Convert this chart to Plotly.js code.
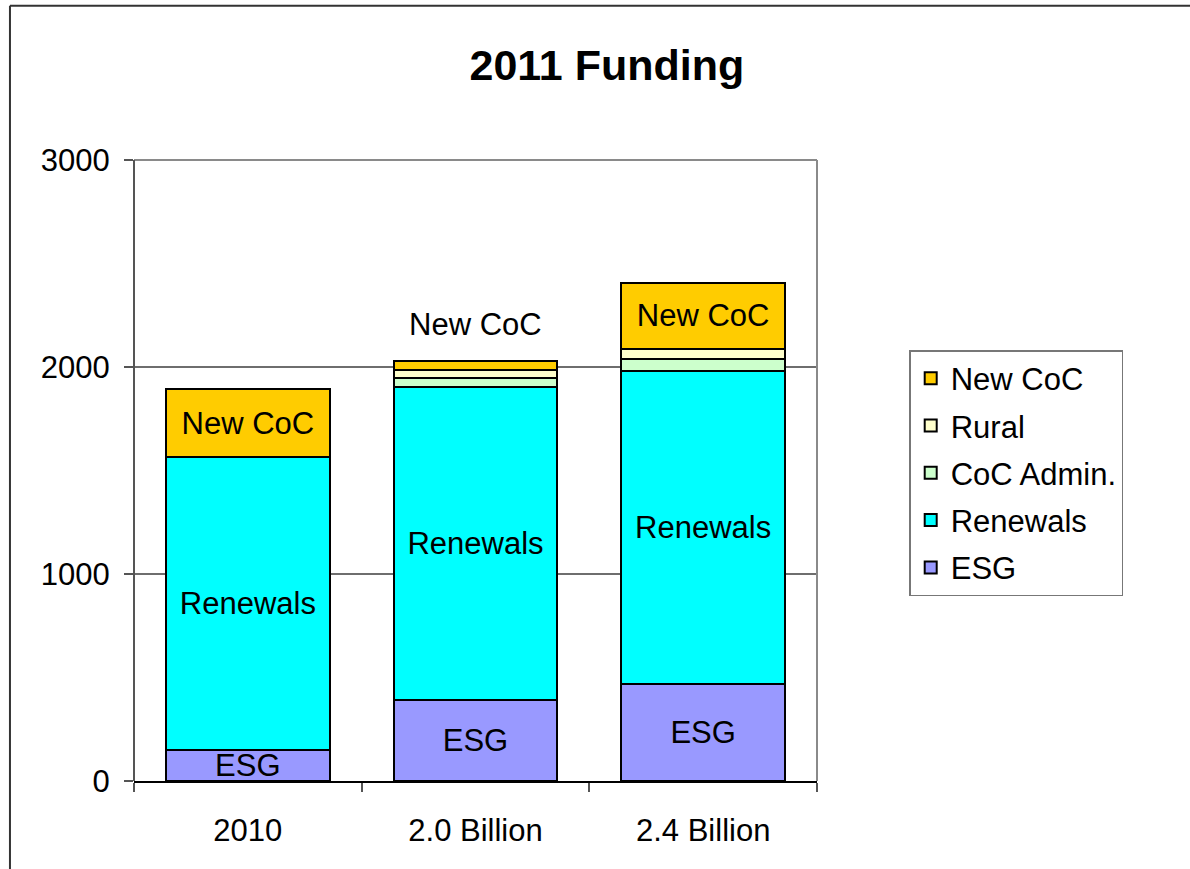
<!DOCTYPE html>
<html>
<head>
<meta charset="utf-8">
<script src="https://cdn.plot.ly/plotly-3.0.1.min.js"></script>
<style>html,body{margin:0;padding:0;background:#fff;}#chart{width:1190px;height:869px;}</style>
</head>
<body>
<div id="chart"></div>
<script>
const categories = ['2010', '2.0 Billion', '2.4 Billion'];
const esg = [150, 392, 470];
const renewals = [1414, 1510, 1511];
const cocAdmin = [null, 46, 58];
const rural = [null, 39, 48];
const newCoc = [329, 43, 320];
const esgText = ['ESG', 'ESG', 'ESG'];
const renewalsText = ['Renewals', 'Renewals', 'Renewals'];
const newCocText = ['New CoC', '', 'New CoC'];
const outsideLabelIndex = 1;

const FONT = 'Liberation Sans, Arial, sans-serif';
const FS = 31;
const line = {color: '#000', width: 2};

function tr(name, y, color, text, rank) {
  return {
    type: 'bar', name: name, x: categories, y: y,
    marker: {color: color, line: line},
    text: text, textposition: text ? 'inside' : 'none',
    insidetextanchor: 'middle',
    textfont: {family: FONT, size: FS, color: '#000'},
    legendgroup: 'g' + rank, legendrank: rank, hoverinfo: 'name+y'
  };
}

const data = [
  tr('ESG', esg, '#9999FF', esgText, 5),
  tr('Renewals', renewals, '#00FFFF', renewalsText, 4),
  tr('CoC Admin.', cocAdmin, '#CCFFCC', null, 3),
  tr('Rural', rural, '#FFFFCC', null, 2),
  tr('New CoC', newCoc, '#FFCC00', newCocText, 1)
];

const totalOutside = esg[outsideLabelIndex] + renewals[outsideLabelIndex] + cocAdmin[outsideLabelIndex] + rural[outsideLabelIndex] + newCoc[outsideLabelIndex];

const layout = {
  width: 1190, height: 869,
  margin: {l: 134, r: 373, t: 160, b: 88},
  paper_bgcolor: '#fff', plot_bgcolor: '#fff',
  barmode: 'stack', bargap: 0.28,
  font: {family: FONT, size: FS, color: '#000'},
  title: {text: '<b>2011 Funding</b>', font: {family: FONT, size: 43, color: '#000'},
          xref: 'container', x: 0.51, xanchor: 'center', yref: 'container', y: 0.925, yanchor: 'middle'},
  xaxis: {type: 'category', showline: true, linecolor: '#000', linewidth: 2,
          ticks: 'outside', tickson: 'boundaries', ticklen: 9, tickcolor: '#555', tickwidth: 2,
          showgrid: false, tickfont: {family: FONT, size: FS, color: '#000'}, ticklabelstandoff: 21},
  yaxis: {range: [0, 3000], dtick: 1000, showline: false,
          ticks: 'outside', ticklen: 9, tickcolor: '#555', tickwidth: 2,
          showgrid: true, gridcolor: '#6e6e6e', gridwidth: 1.5, zeroline: false,
          tickfont: {family: FONT, size: FS, color: '#000'}, ticklabelstandoff: 8},
  legend: {x: 1.135, xanchor: 'left', y: 0.694, yanchor: 'top',
           bordercolor: '#777', borderwidth: 1.5, bgcolor: '#fff',
           traceorder: 'grouped', tracegroupgap: 4,
           font: {family: FONT, size: FS, color: '#000'}},
  uniformtext: {mode: 'show', minsize: FS},
  shapes: [
    {type: 'line', xref: 'paper', yref: 'paper', x0: 0, x1: 1, y0: 1, y1: 1, line: {color: '#8a8a8a', width: 2}},
    {type: 'line', xref: 'paper', yref: 'paper', x0: 1, x1: 1, y0: 0, y1: 1, line: {color: '#8a8a8a', width: 2}},
    {type: 'line', xref: 'paper', yref: 'paper', x0: 0, x1: 0, y0: 0, y1: 1, line: {color: '#555', width: 2}},
    {type: 'line', xref: 'paper', yref: 'paper', x0: -0.1816, x1: 1.7, y0: 1.2485, y1: 1.2485, line: {color: '#333', width: 2}},
    {type: 'line', xref: 'paper', yref: 'paper', x0: -0.1816, x1: -0.1816, y0: 1.2485, y1: -0.3, line: {color: '#333', width: 2}}
  ],
  annotations: [
    {x: categories[outsideLabelIndex], y: totalOutside, xref: 'x', yref: 'y', text: 'New CoC',
     showarrow: false, yanchor: 'bottom', yshift: 17, font: {family: FONT, size: FS, color: '#000'}}
  ],
  showlegend: true
};

Plotly.newPlot('chart', data, layout, {displayModeBar: false, staticPlot: true});
</script>
</body>
</html>
